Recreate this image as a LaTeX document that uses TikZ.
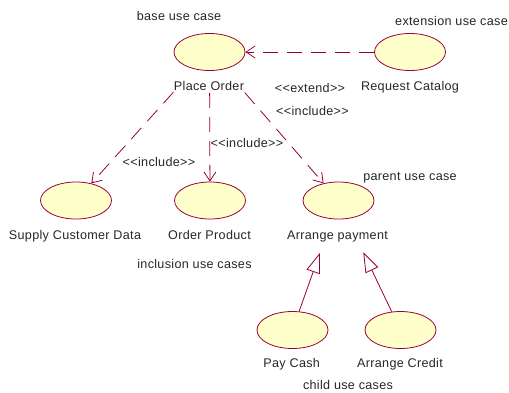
\documentclass[tikz,border=0pt]{standalone}
\usepackage{fontspec}
\setmainfont[LetterSpace=2.5]{Liberation Sans}
\usetikzlibrary{arrows.meta,shapes.geometric}
\definecolor{uml}{RGB}{153,0,51}
\definecolor{ucfill}{RGB}{255,255,204}
\begin{document}
\begin{tikzpicture}[x=1pt,y=-1pt,
  uc/.style={ellipse, draw=uml, fill=ucfill, line width=0.8pt, minimum width=71pt, minimum height=37pt, inner sep=0pt},
  lbl/.style={font=\fontsize{12.6}{14}\selectfont, inner sep=0pt, anchor=base, text=black!85},
  dep/.style={draw=uml, line width=0.8pt, dash pattern=on 15pt off 9pt, -{Straight Barb[length=9pt,width=12pt]}},
  gen/.style={draw=uml, line width=0.8pt, -{Triangle[open,length=20pt,width=14pt,fill=white]}}
]
\useasboundingbox (0,0) rectangle (509,392);
% use cases
\node[uc] (po) at (209.5,52) {};
\node[uc] (rc) at (410,52) {};
\node[uc] (sc) at (76,200.5) {};
\node[uc] (op) at (210,200.5) {};
\node[uc] (ap) at (338.5,200.5) {};
\node[uc] (pc) at (292.5,330) {};
\node[uc] (ac) at (400.5,330) {};
% labels
\node[lbl] (lpo) at (209,90.5) {Place Order};
\node[lbl] (lrc) at (410,90.5) {Request Catalog};
\node[lbl] (lsc) at (75,239.5) {Supply Customer Data};
\node[lbl] (lop) at (209.5,239.5) {Order Product};
\node[lbl] (lap) at (337.5,239.5) {Arrange payment};
\node[lbl] (lpc) at (291.7,367.5) {Pay Cash};
\node[lbl] (lac) at (400,367.5) {Arrange Credit};
% annotations
\node[lbl] (nbase) at (179,20.7) {base use case};
\node[lbl] (next) at (451.5,25) {extension use case};
\node[lbl] (nincl) at (194.5,268.5) {inclusion use cases};
\node[lbl] (npar) at (410,180.5) {parent use case};
\node[lbl] (nchild) at (348,389.5) {child use cases};
% stereotypes
\node[lbl] (sext) at (310,92.5) {<{}<extend>{}>};
\node[lbl] (sinr) at (312.5,115.5) {<{}<include>{}>};
\node[lbl] (sinl) at (159,166.5) {<{}<include>{}>};
\node[lbl] (sinm) at (247,147.5) {<{}<include>{}>};
% connectors
\draw[dep] (rc) -- (po);
\draw[dep, shorten <=31pt] (po) -- (sc);
\draw[dep, shorten <=22pt] (po) -- (op);
\draw[dep, shorten <=31pt] (po) -- (ap);
\draw[gen, shorten >=36pt] (pc) -- (ap);
\draw[gen, shorten >=37pt] (ac) -- (ap);
\end{tikzpicture}
\end{document}
